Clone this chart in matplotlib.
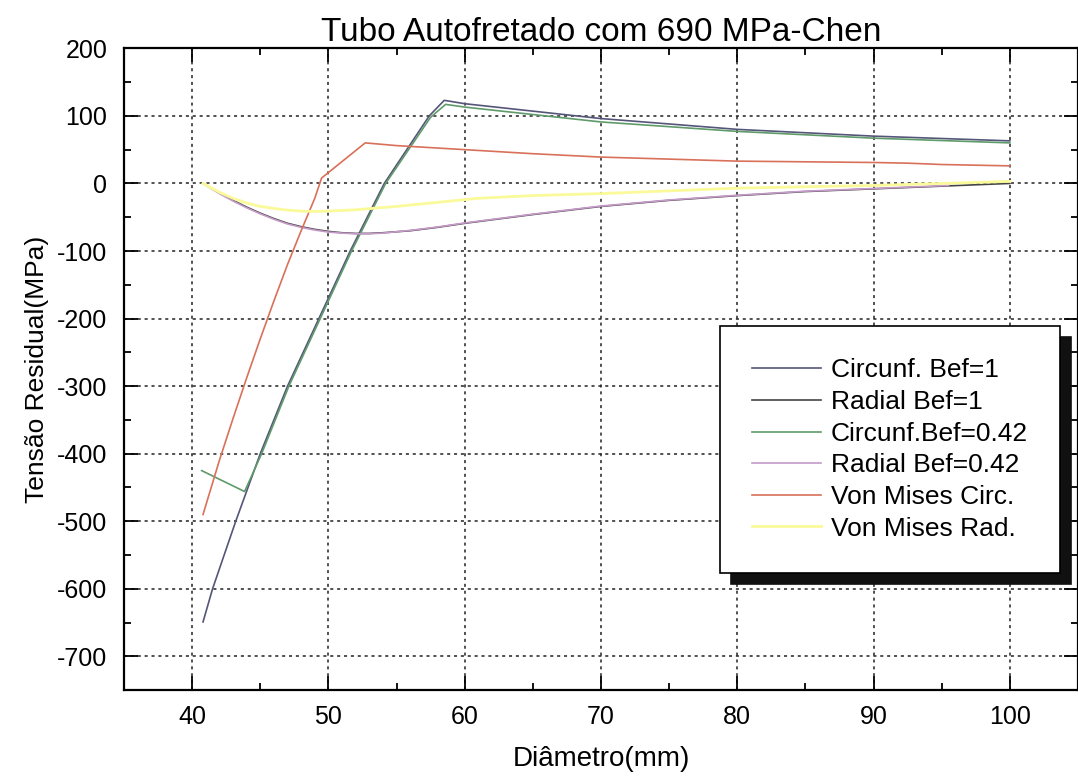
import matplotlib.pyplot as plt
from matplotlib.ticker import MultipleLocator

plt.rcParams['font.family'] = ['Liberation Sans', 'DejaVu Sans']
plt.rcParams['axes.unicode_minus'] = False

# Circunf. Bef=1
circ1_x = [40.8, 41.5, 43.2, 45.0, 47.0, 49.3, 51.6, 54.1, 57.4, 58.5, 60, 70, 80, 90, 100]
circ1_y = [-649, -600, -500, -400, -300, -200, -100, 0, 100, 123, 118, 96, 80, 70, 63]

# Radial Bef=1
rad1_x = [40.8, 42, 43, 44, 45, 46, 47, 48, 49, 50, 51, 52, 53, 54, 56, 58, 60,
          65, 70, 75, 80, 85, 90, 95, 100]
rad1_y = [0, -14, -25, -35, -44, -52, -59, -64, -68, -71, -73, -74, -74, -73, -70, -65, -59,
          -46, -34, -25, -18, -12, -8, -4, 0]

# Circunf. Bef=0.42
circ042_x = [40.7, 43.85, 45.1, 47.1, 49.4, 51.7, 54.2, 57.5, 58.6, 60, 70, 80, 90, 100]
circ042_y = [-425, -456, -400, -300, -200, -100, 0, 98, 117, 113, 91, 77, 67, 60]

# Radial Bef=0.42
rad042_x = [40.8, 42, 43, 44, 45, 46, 47, 48, 49, 50, 51, 52, 53, 54, 56, 58, 60,
            65, 70, 75, 80, 85, 90, 95.5]
rad042_y = [0, -15, -26, -36, -45, -53, -60, -65, -69, -72, -73.5, -74.5, -74.5, -73.5, -69.5, -64.5, -58.5,
            -45.5, -33.5, -24.5, -17.5, -11.5, -7.5, -3]

# Von Mises Circ.
vmc_x = [40.8, 42, 43, 44, 45, 46, 47, 48, 49, 49.5, 52.7, 55, 60, 65, 70, 75, 80, 85, 90, 92.5, 95, 100]
vmc_y = [-490, -410, -348, -288, -230, -174, -120, -70, -22, 8, 60, 56, 50, 44, 39, 36, 33, 32, 31, 30, 28, 26]

# Von Mises Rad.
vmr_x = [40.8, 42, 43, 44, 45, 46, 47, 48, 49, 50, 52, 55, 58, 61, 65, 70, 75, 80, 85, 90, 95, 100]
vmr_y = [0, -13, -22, -29, -34, -37, -39.5, -41, -41.5, -41, -39, -34, -28, -22, -18, -15, -11, -7, -5, -3, 0, 3]

labels = ["Circunf. Bef=1", "Radial Bef=1", "Circunf.Bef=0.42",
          "Radial Bef=0.42", "Von Mises Circ.", "Von Mises Rad."]
colors = ["#55557a", "#454545", "#5f9a6a", "#c59ac8", "#d9705a", "#fafa9a"]

fig = plt.figure(figsize=(10.78, 7.79), dpi=100)
ax = fig.add_axes([0.115, 0.114, 0.885, 0.824])

series = [(circ1_x, circ1_y), (rad1_x, rad1_y), (circ042_x, circ042_y),
          (rad042_x, rad042_y), (vmc_x, vmc_y), (vmr_x, vmr_y)]
for (x, y), lab, c in zip(series, labels, colors):
    lw = 2.0 if c == "#fafa9a" else 1.2
    ax.plot(x, y, color=c, lw=lw, label=lab)

ax.set_xlim(35, 105)
ax.set_ylim(-750, 200)
ax.xaxis.set_major_locator(MultipleLocator(10))
ax.xaxis.set_minor_locator(MultipleLocator(5))
ax.yaxis.set_major_locator(MultipleLocator(100))
ax.yaxis.set_minor_locator(MultipleLocator(50))
ax.tick_params(which='both', direction='in', top=True, right=True, width=1.3)
ax.tick_params(which='major', length=10)
ax.tick_params(which='minor', length=5)
ax.tick_params(axis='x', labelsize=18, pad=11)
ax.tick_params(axis='y', labelsize=18, pad=12)
for s in ax.spines.values():
    s.set_linewidth(1.6)

ax.grid(True, which='major', color='#222222', linestyle=(0, (2, 2.5)), linewidth=1.1)

ax.set_title("Tubo Autofretado com 690 MPa-Chen", fontsize=24, pad=5)
ax.set_xlabel("Diâmetro(mm)", fontsize=20, labelpad=12)
ax.set_ylabel("Tensão Residual(MPa)", fontsize=19, labelpad=6)

leg = ax.legend(loc='upper left', bbox_to_anchor=(0.625, 0.567), borderaxespad=0,
                fontsize=19, frameon=True, fancybox=False, framealpha=1,
                edgecolor='black', handlelength=2.58, handletextpad=0.38,
                labelspacing=0.29, borderpad=1.22,
                shadow={'ox': 8, 'oy': -8, 'facecolor': '#111111', 'edgecolor': '#111111', 'alpha': 1})
leg.get_frame().set_linewidth(1.2)

fig.savefig("out.png", dpi=100)
